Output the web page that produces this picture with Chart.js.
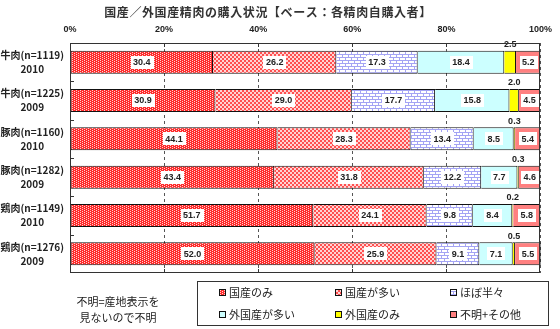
<!DOCTYPE html>
<html lang="ja">
<head>
<meta charset="utf-8">
<title>国産／外国産精肉の購入状況</title>
<script src="https://cdn.jsdelivr.net/npm/chart.js@4.4.1/dist/chart.umd.min.js"></script>
<style>
  html, body { margin: 0; padding: 0; background: #ffffff; }
  #wrap { width: 560px; height: 329px; position: relative; }
</style>
</head>
<body>
<div id="wrap"><canvas id="meatChart" width="560" height="329"></canvas></div>
<script>
// categories and series values (percent)
const categories = [
  ["牛肉(n=1119)", "2010"],
  ["牛肉(n=1225)", "2009"],
  ["豚肉(n=1160)", "2010"],
  ["豚肉(n=1282)", "2009"],
  ["鶏肉(n=1149)", "2010"],
  ["鶏肉(n=1276)", "2009"]
];
const seriesNames = ["国産のみ", "国産が多い", "ほぼ半々", "外国産が多い", "外国産のみ", "不明+その他"];
const domesticOnly   = [30.4, 30.9, 44.1, 43.4, 51.7, 52.0];
const mostlyDomestic = [26.2, 29.0, 28.3, 31.8, 24.1, 25.9];
const halfAndHalf    = [17.3, 17.7, 13.4, 12.2, 9.8, 9.1];
const mostlyImported = [18.4, 15.8, 8.5, 7.7, 8.4, 7.1];
const importedOnly   = [2.5, 2.0, 0.3, 0.3, 0.2, 0.5];
const unknownOther   = [5.2, 4.5, 5.4, 4.6, 5.8, 5.5];
const xTickValues    = [0, 20, 40, 60, 80, 100];

const titleText = "国産／外国産精肉の購入状況【ベース：各精肉自購入者】";
const noteLines = ["不明=産地表示を", "見ないので不明"];

const JP_FONT = '"Noto Sans CJK JP", "Noto Sans", sans-serif';
const NUM_FONT = '"Liberation Sans", Arial, sans-serif';

// --- fill patterns -------------------------------------------------------
function makePattern(w, h, paint) {
  const c = document.createElement("canvas");
  c.width = w; c.height = h;
  const g = c.getContext("2d");
  paint(g);
  return document.createElement("canvas").getContext("2d").createPattern(c, "repeat");
}

// red with staggered white dots
const patDomesticOnly = makePattern(4, 2, g => {
  g.fillStyle = "#ff2a2a";
  g.fillRect(0, 0, 4, 2);
  g.fillStyle = "#ffd0d0";
  g.fillRect(0, 0, 1, 1);
  g.fillRect(2, 1, 1, 1);
});

// red / pale pink checker
const patMostlyDomestic = makePattern(4, 4, g => {
  g.fillStyle = "#ffd4d4";
  g.fillRect(0, 0, 4, 4);
  g.fillStyle = "#ff5050";
  g.fillRect(0, 0, 2, 2);
  g.fillRect(2, 2, 2, 2);
});

// light blue brick on white
const patHalf = makePattern(6, 6, g => {
  g.fillStyle = "#ffffff";
  g.fillRect(0, 0, 6, 6);
  g.fillStyle = "#a4a4f4";
  g.fillRect(0, 0, 6, 1);
  g.fillRect(0, 3, 6, 1);
  g.fillRect(0, 1, 1, 2);
  g.fillRect(3, 4, 1, 2);
});

const seriesData = [domesticOnly, mostlyDomestic, halfAndHalf, mostlyImported, importedOnly, unknownOther];
const seriesFill = [patDomesticOnly, patMostlyDomestic, patHalf, "#ccffff", "#ffff00", "#ff8080"];

// --- value labels ----------------------------------------------------------
const valueLabels = {
  id: "valueLabels",
  afterDatasetsDraw(chart) {
    const ctx = chart.ctx;
    ctx.save();
    ctx.font = "bold 9px " + NUM_FONT;
    ctx.textAlign = "center";
    ctx.textBaseline = "middle";
    chart.data.datasets.forEach((ds, di) => {
      const meta = chart.getDatasetMeta(di);
      meta.data.forEach((bar, i) => {
        const v = ds.data[i];
        const txt = v.toFixed(1);
        const cx = (bar.x + bar.base) / 2;
        if (di === 4) {
          // thin segment: value above the bar
          ctx.fillStyle = "#222";
          ctx.fillText(txt, cx, bar.y - bar.height / 2 - 6);
          return;
        }
        const tw = ctx.measureText(txt).width;
        ctx.fillStyle = "#ffffff";
        ctx.fillRect(Math.round(cx - tw / 2 - 2.5), Math.round(bar.y - 6.5), Math.round(tw + 5), 13);
        ctx.fillStyle = "#222";
        ctx.fillText(txt, cx, bar.y + 0.5);
      });
    });
    ctx.restore();
  }
};

// --- frame, inner ticks, title, legend box, note ---------------------------
const decorations = {
  id: "decorations",
  afterDraw(chart) {
    const ctx = chart.ctx;
    const a = chart.chartArea;
    const xs = chart.scales.x;
    const n = categories.length;
    ctx.save();
    ctx.strokeStyle = "#333";
    ctx.lineWidth = 1;
    ctx.strokeRect(Math.round(a.left) + 0.5, Math.round(a.top) + 0.5,
      Math.round(a.right - a.left) - 1, Math.round(a.bottom - a.top) - 1);

    ctx.beginPath();
    xTickValues.slice(1, -1).forEach(v => {
      const px = Math.round(xs.getPixelForValue(v)) + 0.5;
      ctx.moveTo(px, a.top); ctx.lineTo(px, a.top + 4);
      ctx.moveTo(px, a.bottom); ctx.lineTo(px, a.bottom - 4);
    });
    const step = (a.bottom - a.top) / n;
    for (let k = 1; k < n; k++) {
      const py = Math.round(a.top + k * step) + 0.5;
      ctx.moveTo(a.left, py); ctx.lineTo(a.left + 4, py);
    }
    ctx.stroke();

    // title
    ctx.fillStyle = "#333";
    ctx.font = "bold 12px " + JP_FONT;
    ctx.textAlign = "center";
    ctx.textBaseline = "middle";
    ctx.letterSpacing = "0.6px";
    ctx.fillText(titleText, 268, 12);
    ctx.letterSpacing = "0px";

    // note on the left of the legend
    ctx.font = "11px " + JP_FONT;
    ctx.fillStyle = "#222";
    ctx.fillText(noteLines[0], 118, 302);
    ctx.fillText(noteLines[1], 118, 318);

    // legend box
    ctx.strokeStyle = "#333";
    ctx.strokeRect(197.5, 281.5, 351, 44);
    const colX = [219, 335, 450];
    const rowY = [293, 315];
    ctx.textAlign = "left";
    ctx.font = "11px " + JP_FONT;
    seriesNames.forEach((name, i) => {
      const sx = colX[i % 3];
      const sy = rowY[Math.floor(i / 3)];
      ctx.fillStyle = seriesFill[i];
      ctx.fillRect(sx, sy - 4, 7, 7);
      ctx.strokeStyle = "#111";
      ctx.strokeRect(sx + 0.5, sy - 3.5, 6, 6);
      ctx.fillStyle = "#222";
      ctx.fillText(name, sx + 10, sy);
    });
    ctx.restore();
  }
};

new Chart(document.getElementById("meatChart"), {
  type: "bar",
  data: {
    labels: categories,
    datasets: seriesNames.map((name, i) => ({
      label: name,
      data: seriesData[i],
      backgroundColor: seriesFill[i],
      borderColor: "#111",
      // one shared divider between neighbouring segments
      borderWidth: { top: 1, bottom: 1, right: 1, left: i === 0 ? 1 : 0 },
      borderSkipped: false,
      barPercentage: 0.6,
      categoryPercentage: 1.0
    }))
  },
  options: {
    indexAxis: "y",
    responsive: false,
    devicePixelRatio: 1,
    animation: false,
    layout: { padding: { top: 0, left: 0, right: 13, bottom: 56 } },
    plugins: {
      legend: { display: false },
      tooltip: { enabled: false },
      title: { display: false }
    },
    scales: {
      x: {
        position: "top",
        stacked: true,
        min: 0,
        max: 100,
        afterBuildTicks: scale => { scale.ticks = xTickValues.map(v => ({ value: v })); },
        afterFit: scale => { scale.height = 43; },
        grid: { color: "#555", lineWidth: 1, drawTicks: false },
        border: { display: false, dash: [3, 3] },
        ticks: {
          padding: 8,
          color: "#222",
          font: { family: NUM_FONT, size: 9, weight: "bold" },
          callback: v => v + "%"
        }
      },
      y: {
        stacked: true,
        afterFit: scale => { scale.width = 70; },
        grid: { display: false, drawTicks: false },
        border: { display: false },
        ticks: {
          crossAlign: "center",
          padding: 6,
          color: "#222",
          font: { family: JP_FONT, size: 10, weight: "bold", lineHeight: 1.4 }
        }
      }
    }
  },
  plugins: [valueLabels, decorations]
});
</script>
</body>
</html>
